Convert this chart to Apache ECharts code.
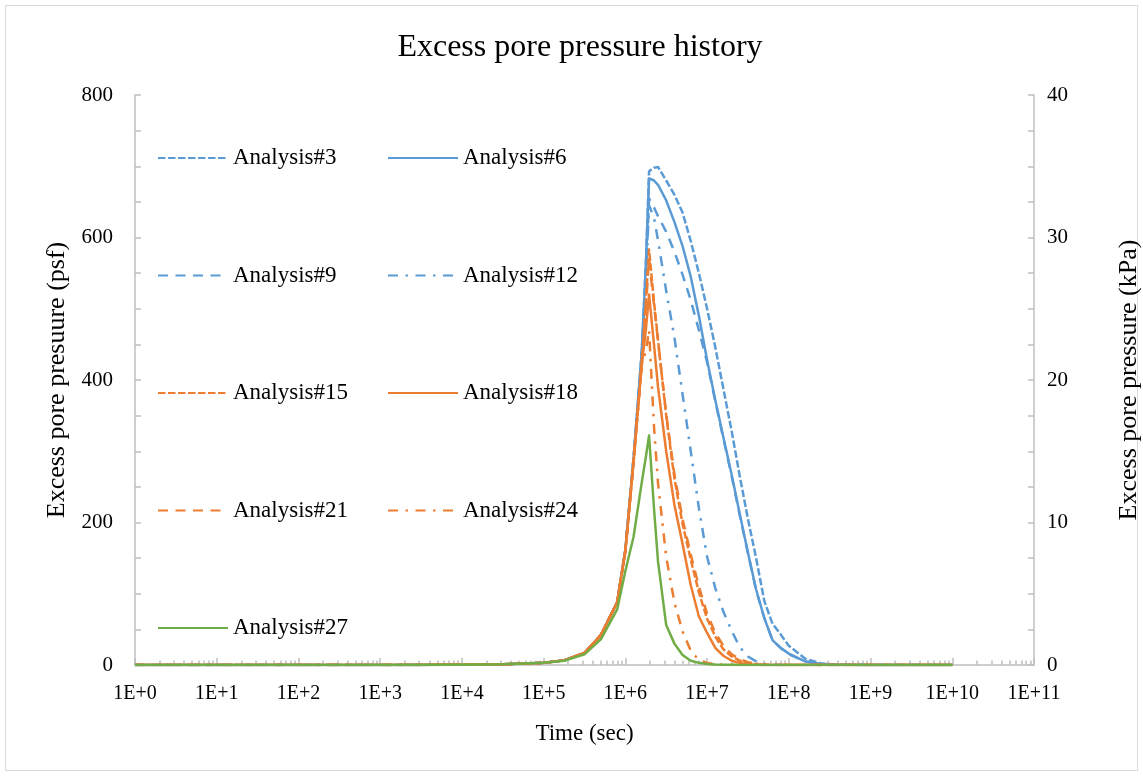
<!DOCTYPE html>
<html><head><meta charset="utf-8">
<script src="https://cdn.jsdelivr.net/npm/echarts@6/dist/echarts.min.js"></script>
<style>html,body{margin:0;padding:0;background:#fff}#c{width:1143px;height:776px}</style>
</head><body><div id="c"></div>
<script>
// time in seconds
const times = [1, 10, 100, 1000, 10000, 31600, 100000, 178000, 316000, 501000, 794000,
  1000000, 1260000, 1580000, 1780000, 1950000, 2240000, 2510000, 3160000, 3980000,
  5010000, 6310000, 7940000, 10000000, 12600000, 15800000, 20000000, 25100000,
  31600000, 39800000, 50100000, 63100000, 79400000, 100000000, 158000000,
  251000000, 398000000, 1000000000, 10000000000];

const a3  = [0,0,0,0,0.3,1,3,6.5,17,42,88,162,290,435,560, 693,698,699,680,660,635,595,550,500,446,388,328,265,205,150,90,58,43,27,9,2,0.5,0,0];
const a6  = [0,0,0,0,0.3,1,3,6.5,17,42,88,162,290,435,560, 683,680,674,652,622,588,545,490,428,372,320,267,212,158,106,66,35,24,16,5,1.5,0.3,0,0];
const a9  = [0,0,0,0,0.3,1,3,6.5,17,42,88,162,290,435,545, 655,642,630,608,580,548,512,470,425,370,318,265,210,157,105,66,35,24,15,5,1.5,0.3,0,0];
const a12 = [0,0,0,0,0.3,1,3,6.5,17,42,88,162,290,435,540, 645,628,596,525,460,380,300,220,152,108,75,48,25,12,5,1.5,0.5,0,0,0,0,0,0,0];
const a15 = [0,0,0,0,0.3,1,3,6.5,17,42,88,160,285,420,510, 583,510,456,350,262,198,148,102,65,40,22,12,6,3,1,0.3,0,0,0,0,0,0,0,0];
const a18 = [0,0,0,0,0.3,1,3,6.5,17,42,88,160,285,420,470, 520,450,390,300,225,170,112,68,45,24,13,6,3,1,0.3,0,0,0,0,0,0,0,0,0];
const a21 = [0,0,0,0,0.3,1,3,6.5,17,42,88,160,285,420,500, 570,505,455,352,268,205,155,110,72,45,27,15,8,4,1.5,0.5,0,0,0,0,0,0,0,0];
const a24 = [0,0,0,0,0.3,1,3,6.5,17,42,88,160,285,420,440, 470,335,255,152,88,47,20,7,3,1,0.3,0,0,0,0,0,0,0,0,0,0,0,0,0];
const a27 = [0,0,0,0,0.3,1,3,6,15,36,78,132,180,255,292, 322,220,145,56,30,14,6,3,1.5,0.8,0.4,0.2,0,0,0,0,0,0,0,0,0,0,0,0];

const seriesNames = ['Analysis#3','Analysis#6','Analysis#9','Analysis#12','Analysis#15','Analysis#18','Analysis#21','Analysis#24','Analysis#27'];
const seriesValues = [a3, a6, a9, a12, a15, a18, a21, a24, a27];

const decadeTicks = [1,1e1,1e2,1e3,1e4,1e5,1e6,1e7,1e8,1e9,1e10,1e11];
const minorMultipliers = [2,3,4,5,6,7,8,9];

const BLUE = '#5B9BD5', ORANGE = '#ED7D31', GREEN = '#70AD47';
const W = 2.5;
const SYSDASH = [7.5, 2.5], DASH = [10, 7.5], DASHDOT = [10, 7.5, 2.5, 7.5];
const styles = [
  {color: BLUE, type: SYSDASH}, {color: BLUE, type: 'solid'}, {color: BLUE, type: DASH}, {color: BLUE, type: DASHDOT},
  {color: ORANGE, type: SYSDASH}, {color: ORANGE, type: 'solid'}, {color: ORANGE, type: DASH}, {color: ORANGE, type: DASHDOT},
  {color: GREEN, type: 'solid'}
];

const minorTicks = [];
for (let d = 0; d < 11; d++) for (const m of minorMultipliers) minorTicks.push(m * Math.pow(10, d));

const FONT = 'Liberation Serif';
const AX = '#bfbfbf';

const series = seriesNames.map((n, i) => ({
  name: n, type: 'line', xAxisIndex: 0, yAxisIndex: 0,
  data: times.map((t, k) => [t, seriesValues[i][k]]),
  showSymbol: false, symbol: 'none', smooth: false,
  color: styles[i].color,
  lineStyle: {color: styles[i].color, width: W, type: styles[i].type, cap: 'butt', join: 'round'},
  z: 2 + i
}));

const chart = echarts.init(document.getElementById('c'), null, {renderer: 'canvas'});
const legendCommon = {
  orient: 'vertical', padding: 0, itemWidth: 70, itemHeight: 14, itemGap: 93.5,
  itemStyle: {opacity: 0},
  textStyle: {fontFamily: FONT, fontSize: 23, color: '#000', lineHeight: 24}
};
const gridBox = {left: 135, right: 109, top: 95, bottom: 111, containLabel: false, outerBoundsMode: 'none'};
chart.setOption({
  animation: false,
  backgroundColor: '#fff',
  title: {
    text: 'Excess pore pressure history', left: 575, top: 27, textAlign: 'center',
    textStyle: {fontFamily: FONT, fontSize: 32, fontWeight: 'normal', color: '#000'}
  },
  legend: [
    Object.assign({}, legendCommon, {left: 157, top: 146, data: ['Analysis#3','Analysis#9','Analysis#15','Analysis#21','Analysis#27']}),
    Object.assign({}, legendCommon, {left: 387, top: 146, data: ['Analysis#6','Analysis#12','Analysis#18','Analysis#24']})
  ],
  grid: [Object.assign({}, gridBox), Object.assign({}, gridBox)],
  xAxis: [
    {
      type: 'log', logBase: 10, min: 1, max: 1e11, gridIndex: 0, position: 'bottom',
      name: 'Time (sec)', nameLocation: 'middle', nameGap: 57,
      nameTextStyle: {fontFamily: FONT, fontSize: 23, color: '#000'},
      axisLine: {show: true, lineStyle: {color: AX, width: 1.5}},
      axisTick: {show: true, inside: true, length: 7, lineStyle: {color: AX, width: 1.5}, customValues: decadeTicks},
      axisLabel: {
        customValues: decadeTicks, margin: 19,
        fontFamily: FONT, fontSize: 20, color: '#000',
        formatter: v => '1E+' + Math.round(Math.log10(v))
      },
      splitLine: {show: false}, minorTick: {show: false}, minorSplitLine: {show: false}
    },
    {
      type: 'log', logBase: 10, min: 1, max: 1e11, gridIndex: 1, position: 'bottom',
      axisLine: {show: false},
      axisTick: {show: true, inside: true, length: 4.5, lineStyle: {color: AX, width: 1.5}, customValues: minorTicks},
      axisLabel: {show: false}, splitLine: {show: false}
    }
  ],
  yAxis: [
    {
      type: 'value', min: 0, max: 800, interval: 200, gridIndex: 0, position: 'left',
      name: 'Excess pore presuure (psf)', nameLocation: 'middle', nameGap: 64, nameRotate: 90,
      nameTextStyle: {fontFamily: FONT, fontSize: 26, color: '#000'},
      axisLine: {show: true, lineStyle: {color: AX, width: 1.5}},
      axisTick: {show: true, inside: true, length: 6, lineStyle: {color: AX, width: 1.5}},
      minorTick: {show: true, splitNumber: 4, length: 6, lineStyle: {color: AX, width: 1.5}},
      axisLabel: {margin: 22, fontFamily: FONT, fontSize: 21, color: '#000'},
      splitLine: {show: false}
    },
    {
      type: 'value', min: 0, max: 40, interval: 10, gridIndex: 0, position: 'right',
      name: 'Excess pore pressure (kPa)', nameLocation: 'middle', nameGap: 82, nameRotate: 90,
      nameTextStyle: {fontFamily: FONT, fontSize: 26, color: '#000'},
      axisLine: {show: true, lineStyle: {color: AX, width: 1.5}},
      axisTick: {show: true, inside: true, length: 6, lineStyle: {color: AX, width: 1.5}},
      minorTick: {show: true, splitNumber: 4, length: 6, lineStyle: {color: AX, width: 1.5}},
      axisLabel: {margin: 13, fontFamily: FONT, fontSize: 21, color: '#000'},
      splitLine: {show: false}
    },
    {type: 'value', min: 0, max: 800, gridIndex: 1, show: false}
  ],
  graphic: [{
    type: 'rect', silent: true, z: -10,
    shape: {x: 5.5, y: 5.5, width: 1132, height: 765},
    style: {fill: 'none', stroke: '#d9d9d9', lineWidth: 1}
  }],
  series: series
});
</script>
</body></html>
